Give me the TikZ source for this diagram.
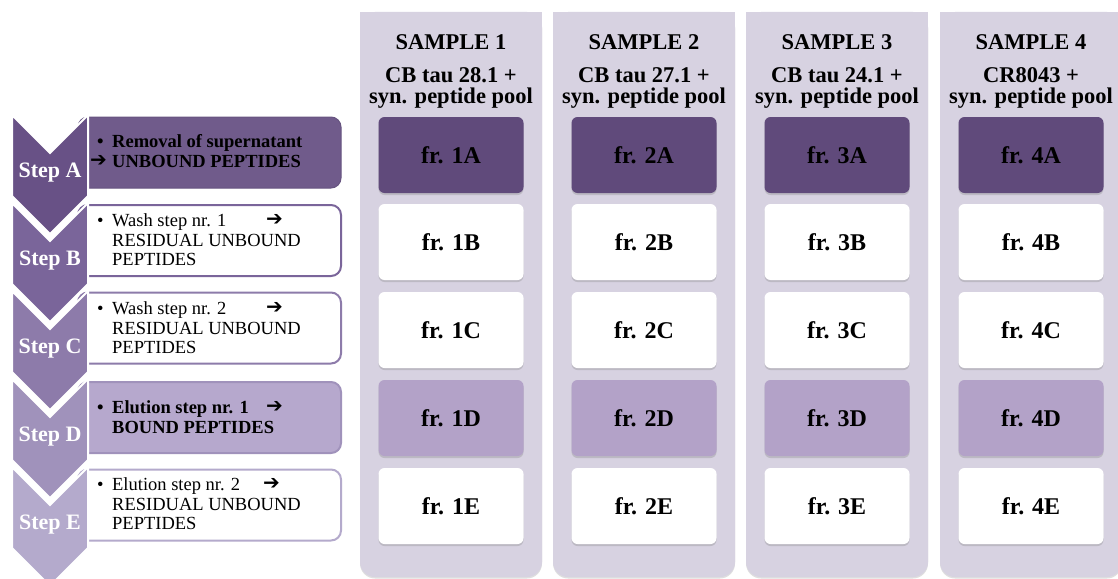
\documentclass[tikz,border=0pt]{standalone}
\usepackage{fontspec}
\setmainfont{Liberation Serif}
\newfontfamily\arrowfont{DejaVu Sans}
\usetikzlibrary{shadows}
\definecolor{fxpanel}{RGB}{215,210,225}
\definecolor{fxdark}{RGB}{96,74,123}
\definecolor{fxmid}{RGB}{179,162,200}
\definecolor{stboxa}{RGB}{112,91,139}
\definecolor{stboxd}{RGB}{182,168,205}
\definecolor{chva}{RGB}{104,81,134}
\definecolor{chvb}{RGB}{122,101,154}
\definecolor{chvc}{RGB}{141,123,170}
\definecolor{chvd}{RGB}{160,146,187}
\definecolor{chve}{RGB}{180,170,204}
\newcommand{\fxarrow}{\raisebox{1pt}{\arrowfont\fontsize{20}{20}\selectfont ➔}}

\begin{document}
\begin{tikzpicture}[
    x=1pt, y=-1pt,
    % Sample columns with their fractions
    panel/.style={
        fill=fxpanel,
        rounded corners=15pt,
        drop shadow={opacity=0.25, shadow xshift=0pt, shadow yshift=-1.5pt}
    },
    head/.style={font=\fontsize{22.5}{21.5}\selectfont\bfseries, align=center, inner sep=0pt},
    frac/.style={
        rounded corners=6pt,
        minimum width=145pt,
        minimum height=76pt,
        inner sep=0pt,
        font=\fontsize{24}{24}\selectfont\bfseries,
        drop shadow={opacity=0.3, shadow xshift=0pt, shadow yshift=-2pt}
    },
    fracdark/.style={frac, fill=fxdark},
    fracwhite/.style={frac, fill=white},
    fracmid/.style={frac, fill=fxmid},
    % Step list on the left
    stepbox/.style={
        rounded corners=10pt,
        minimum width=263pt,
        minimum height=71pt,
        line width=2pt,
        fill=white
    },
    steptext/.style={
        anchor=west,
        inner sep=0pt,
        align=left,
        font=\fontsize{18.5}{19.5}\selectfont
    },
    chevron/.style={draw=white, line width=2pt},
    steplabel/.style={text=white, font=\fontsize{22}{22}\selectfont\bfseries, inner sep=0pt}
]
    \clip (0,0) rectangle (1118,578);
    \useasboundingbox (0,0) rectangle (1118,578);
    \fill[white] (0,0) rectangle (1118,578);

    \foreach \c/\x/\sub in {1/451/CB tau 28.1 +, 2/644/CB tau 27.1 +,
                            3/837/CB tau 24.1 +, 4/1031/CR8043 +} {
        \path[panel] (\x-91,12) rectangle (\x+91,577);
        \fill[fxpanel] (\x-91,12) rectangle (\x+91,40);
        \node[head] (s\c) at (\x,42) {SAMPLE \c};
        \node[head] (m\c) at (\x,88) {\sub\\syn. peptide pool};
        \foreach \r/\y/\s in {A/155/fracdark, B/242/fracwhite, C/330/fracwhite,
                              D/418/fracmid, E/506/fracwhite} {
            \node[\s] (f\c\r) at (\x,\y) {fr. \c\r};
        }
    }

    \node[stepbox, fill=stboxa, draw=stboxa!92!black, line width=1pt] (boxa) at (209.5,152.5) {};
    \node[stepbox, draw=chvb] (boxb) at (209.5,240.5) {};
    \node[stepbox, draw=chvc] (boxc) at (209.5,328) {};
    \node[stepbox, fill=stboxd, draw=chvd] (boxd) at (209.5,417.5) {};
    \node[stepbox, draw=chve] (boxe) at (209.5,505) {};

    \foreach \k/\col/\lab in {0/chva/A, 1/chvb/B, 2/chvc/C, 3/chvd/D, 4/chve/E} {
        \pgfmathsetmacro{\t}{115+88*\k}
        \fill[chevron, fill=\col] (12,\t) -- (50,\t+38) -- (88,\t) -- (88,\t+81)
            -- (50,\t+119) -- (12,\t+81) -- cycle;
        \node[steplabel] (step\lab) at (50,\t+58) {Step \lab};
    }

    \node[steptext, font=\fontsize{18.5}{19.5}\selectfont\bfseries] (texta) at (97,151)
        {\makebox[15pt][l]{•}Removal of supernatant\\
         \makebox[15pt][l]{\hspace{-7pt}\fxarrow}UNBOUND PEPTIDES};
    \node[steptext] (textb) at (97,240)
        {\makebox[15pt][l]{•}\makebox[154pt][l]{Wash step nr. 1}\fxarrow\\
         \hspace*{15pt}RESIDUAL UNBOUND\\\hspace*{15pt}PEPTIDES};
    \node[steptext] (textc) at (97,328)
        {\makebox[15pt][l]{•}\makebox[154pt][l]{Wash step nr. 2}\fxarrow\\
         \hspace*{15pt}RESIDUAL UNBOUND\\\hspace*{15pt}PEPTIDES};
    \node[steptext, font=\fontsize{18.5}{19.5}\selectfont\bfseries] (textd) at (97,417)
        {\makebox[15pt][l]{•}\makebox[154pt][l]{Elution step nr. 1}\fxarrow\\
         \hspace*{15pt}BOUND PEPTIDES};
    \node[steptext] (texte) at (97,504)
        {\makebox[15pt][l]{•}\makebox[151pt][l]{Elution step nr. 2}\fxarrow\\
         \hspace*{15pt}RESIDUAL UNBOUND\\\hspace*{15pt}PEPTIDES};
\end{tikzpicture}
\end{document}
